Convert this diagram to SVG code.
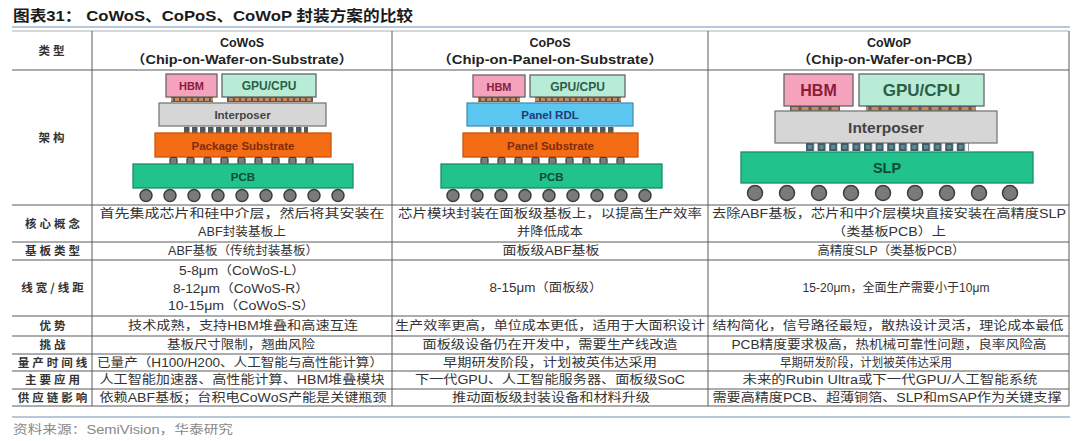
<svg xmlns="http://www.w3.org/2000/svg" width="1080" height="441" viewBox="0 0 1080 441">
<defs>
<style>
.title{font-family:"Liberation Sans","Noto Sans CJK SC",sans-serif;font-weight:bold;font-size:15px;fill:#1a1a1a}
.hd{font-family:"Liberation Sans","Noto Sans CJK SC",sans-serif;font-weight:bold;font-size:12.5px;fill:#222;text-anchor:middle}
.lb{font-family:"Noto Sans CJK SC",sans-serif;font-weight:bold;font-size:11.5px;fill:#333;text-anchor:middle;letter-spacing:3px}
.tx{font-family:"Liberation Sans","Noto Sans CJK SC",sans-serif;font-size:12px;fill:#333;text-anchor:middle}
.src{font-family:"Liberation Sans","Noto Sans CJK SC",sans-serif;font-size:12px;fill:#888}
.ln{stroke:#5a5a5a;stroke-width:1;fill:none}
.lnl{stroke:#b0b0b0;stroke-width:1;fill:none}
.blue{stroke:#9fb6d2;stroke-width:1.5;fill:none}
.dt{font-family:"Liberation Sans","DejaVu Sans",sans-serif;font-weight:bold;text-anchor:middle}
.hbm{fill:#f5a3bd;stroke:#666;stroke-width:1.3}
.gpu{fill:#b9ecd7;stroke:#666;stroke-width:1.3}
.itp{fill:#d6d6d6;stroke:#7a7a7a;stroke-width:1.3}
.rdl{fill:#5bc6f0;stroke:#4a8fb2;stroke-width:1.3}
.sub{fill:#f46c14;stroke:#c9560c;stroke-width:1.3}
.pcb{fill:#22c28d;stroke:#1a8d66;stroke-width:1.3}
.c4{fill:#7c7c7c;stroke:#3a3a3a;stroke-width:1.2}
.ball{fill:#7a7a7a;stroke:#3d3d3d;stroke-width:1.5}
</style>
<pattern id="ubS" patternUnits="userSpaceOnUse" x="0" y="97" width="6" height="5">
<rect x="0" y="0" width="6" height="5" fill="#5a5a5a"/>
<rect x="1" y="1" width="4" height="3" fill="#d08850"/>
</pattern>
<pattern id="tsvS" patternUnits="userSpaceOnUse" x="0" y="127" width="8" height="6">
<rect x="0" y="0" width="5.5" height="6" fill="#4d5a60"/>
</pattern>
<pattern id="ubP" patternUnits="userSpaceOnUse" x="0" y="106" width="10" height="5">
<rect x="0" y="0" width="10" height="5" fill="#5a5a5a"/>
<rect x="1.5" y="1" width="7" height="3" fill="#d08850"/>
</pattern>
<pattern id="tsvP" patternUnits="userSpaceOnUse" x="806" y="143" width="11.6" height="8">
<rect x="0" y="0" width="8" height="8" fill="#3f5d66"/>
<rect x="2" y="2" width="4" height="4" fill="#5f8a92"/>
</pattern>
</defs>
<rect width="1080" height="441" fill="#ffffff"/>

<text class="title" x="13" y="21" textLength="400" lengthAdjust="spacingAndGlyphs">图表31： CoWoS、CoPoS、CoWoP 封装方案的比较</text>
<line class="blue" x1="12" y1="27" x2="1070" y2="27"/>

<g id="table-grid">
<line class="lnl" x1="12" y1="31" x2="1069" y2="31"/>
<line class="ln" x1="12" y1="70" x2="1069" y2="70"/>
<line class="ln" x1="12" y1="205" x2="1069" y2="205"/>
<line class="ln" x1="12" y1="242" x2="1069" y2="242"/>
<line class="ln" x1="12" y1="260" x2="1069" y2="260"/>
<line class="ln" x1="12" y1="316" x2="1069" y2="316"/>
<line class="ln" x1="12" y1="336" x2="1069" y2="336"/>
<line class="ln" x1="12" y1="354" x2="1069" y2="354"/>
<line class="ln" x1="12" y1="371" x2="1069" y2="371"/>
<line class="ln" x1="12" y1="389" x2="1069" y2="389"/>
<line class="ln" x1="12" y1="406" x2="1069" y2="406"/>
<line class="ln" x1="92" y1="31" x2="92" y2="406"/>
<line class="ln" x1="392" y1="31" x2="392" y2="406"/>
<line class="ln" x1="708" y1="31" x2="708" y2="406"/>
<line class="ln" x1="1069" y1="31" x2="1069" y2="406"/>
</g>

<g id="row-labels">
<text class="lb" x="53" y="55">类型</text>
<text class="lb" x="53" y="142">架构</text>
<text class="lb" x="54" y="228">核心概念</text>
<text class="lb" x="54" y="255">基板类型</text>
<text class="lb" x="54" y="292">线宽/线距</text>
<text class="lb" x="54" y="330">优势</text>
<text class="lb" x="54" y="349">挑战</text>
<text class="lb" x="54" y="367">量产时间线</text>
<text class="lb" x="54" y="384">主要应用</text>
<text class="lb" x="54" y="402">供应链影响</text>
</g>

<g id="headers">
<text class="hd" x="242" y="47">CoWoS</text>
<text class="hd" x="242" y="64" textLength="222" lengthAdjust="spacingAndGlyphs">（Chip-on-Wafer-on-Substrate）</text>
<text class="hd" x="550" y="47">CoPoS</text>
<text class="hd" x="550" y="64" textLength="226" lengthAdjust="spacingAndGlyphs">（Chip-on-Panel-on-Substrate）</text>
<text class="hd" x="889" y="47">CoWoP</text>
<text class="hd" x="889" y="64" textLength="184" lengthAdjust="spacingAndGlyphs">（Chip-on-Wafer-on-PCB）</text>
</g>

<g id="cowos-diagram">
<g id="cowos-hbm"><rect class="hbm" x="166" y="74" width="51" height="23"/><text class="dt" x="191.5" y="90" font-size="11" fill="#8a1c3c">HBM</text></g>
<g id="cowos-gpu"><rect class="gpu" x="222" y="74" width="94" height="23"/><text class="dt" x="269" y="90" font-size="12" fill="#2d5e46">GPU/CPU</text></g>
<rect x="171" y="97" width="42" height="5" fill="url(#ubS)"/>
<rect x="227" y="97" width="86" height="5" fill="url(#ubS)"/>
<g id="cowos-interposer"><rect class="itp" x="159" y="103" width="167" height="23"/><text class="dt" x="242.5" y="118.5" font-size="11.5" fill="#444">Interposer</text></g>
<rect x="182" y="127" width="126" height="6" fill="url(#tsvS)"/>
<g id="cowos-substrate"><rect class="sub" x="155" y="133" width="176" height="24"/><text class="dt" x="243" y="149.5" font-size="11.5" fill="#7e2c0c">Package Substrate</text></g>
<g id="cowos-c4">
<rect class="c4" x="170" y="157.5" width="7" height="7" rx="1.5"/><rect class="c4" x="187" y="157.5" width="7" height="7" rx="1.5"/><rect class="c4" x="204" y="157.5" width="7" height="7" rx="1.5"/><rect class="c4" x="221" y="157.5" width="7" height="7" rx="1.5"/><rect class="c4" x="238" y="157.5" width="7" height="7" rx="1.5"/><rect class="c4" x="255" y="157.5" width="7" height="7" rx="1.5"/><rect class="c4" x="272" y="157.5" width="7" height="7" rx="1.5"/><rect class="c4" x="289" y="157.5" width="7" height="7" rx="1.5"/><rect class="c4" x="306" y="157.5" width="7" height="7" rx="1.5"/>
</g>
<g id="cowos-pcb"><rect class="pcb" x="133" y="164" width="220" height="24"/><text class="dt" x="243" y="180.5" font-size="11.5" fill="#0f4d33">PCB</text></g>
<g id="cowos-balls">
<circle class="ball" cx="146" cy="195.5" r="6"/><circle class="ball" cx="170" cy="195.5" r="6"/><circle class="ball" cx="194" cy="195.5" r="6"/><circle class="ball" cx="218" cy="195.5" r="6"/><circle class="ball" cx="242" cy="195.5" r="6"/><circle class="ball" cx="266" cy="195.5" r="6"/><circle class="ball" cx="290" cy="195.5" r="6"/><circle class="ball" cx="314" cy="195.5" r="6"/><circle class="ball" cx="338" cy="195.5" r="6"/>
</g>
</g>

<g id="copos-diagram">
<g id="copos-hbm"><rect class="hbm" x="473" y="75" width="52" height="22"/><text class="dt" x="499" y="90.5" font-size="11" fill="#8a1c3c">HBM</text></g>
<g id="copos-gpu"><rect class="gpu" x="530" y="75" width="95" height="22"/><text class="dt" x="577.5" y="90.5" font-size="12" fill="#2d5e46">GPU/CPU</text></g>
<rect x="478" y="97" width="42" height="5" fill="url(#ubS)"/>
<rect x="535" y="97" width="86" height="5" fill="url(#ubS)"/>
<g id="copos-rdl"><rect class="rdl" x="467" y="103" width="166" height="23"/><text class="dt" x="550" y="118.5" font-size="11.5" fill="#1e3a7a">Panel RDL</text></g>
<rect x="490" y="127" width="126" height="6" fill="url(#tsvS)"/>
<g id="copos-substrate"><rect class="sub" x="463" y="133" width="175" height="24"/><text class="dt" x="550.5" y="149.5" font-size="11.5" fill="#7e2c0c">Panel Substrate</text></g>
<g id="copos-c4">
<rect class="c4" x="481" y="157.5" width="7" height="7" rx="1.5"/><rect class="c4" x="498" y="157.5" width="7" height="7" rx="1.5"/><rect class="c4" x="515" y="157.5" width="7" height="7" rx="1.5"/><rect class="c4" x="532" y="157.5" width="7" height="7" rx="1.5"/><rect class="c4" x="549" y="157.5" width="7" height="7" rx="1.5"/><rect class="c4" x="566" y="157.5" width="7" height="7" rx="1.5"/><rect class="c4" x="583" y="157.5" width="7" height="7" rx="1.5"/><rect class="c4" x="600" y="157.5" width="7" height="7" rx="1.5"/><rect class="c4" x="617" y="157.5" width="7" height="7" rx="1.5"/>
</g>
<g id="copos-pcb"><rect class="pcb" x="441" y="164" width="221" height="24"/><text class="dt" x="551.5" y="180.5" font-size="11.5" fill="#0f4d33">PCB</text></g>
<g id="copos-balls">
<circle class="ball" cx="453" cy="195.5" r="6"/><circle class="ball" cx="477" cy="195.5" r="6"/><circle class="ball" cx="501" cy="195.5" r="6"/><circle class="ball" cx="525" cy="195.5" r="6"/><circle class="ball" cx="549" cy="195.5" r="6"/><circle class="ball" cx="573" cy="195.5" r="6"/><circle class="ball" cx="597" cy="195.5" r="6"/><circle class="ball" cx="621" cy="195.5" r="6"/><circle class="ball" cx="645" cy="195.5" r="6"/>
</g>
</g>

<g id="cowop-diagram">
<g id="cowop-hbm"><rect class="hbm" x="784" y="74" width="69" height="32"/><text class="dt" x="818.5" y="96" font-size="16" fill="#8a1c3c">HBM</text></g>
<g id="cowop-gpu"><rect class="gpu" x="859" y="74" width="125" height="32"/><text class="dt" x="921.5" y="96" font-size="17" fill="#2d5e46">GPU/CPU</text></g>
<rect x="790" y="106" width="50" height="5" fill="url(#ubP)"/>
<rect x="866" y="106" width="110" height="5" fill="url(#ubP)"/>
<g id="cowop-interposer"><rect class="itp" x="775" y="111" width="222" height="32"/><text class="dt" x="886" y="133" font-size="15.5" fill="#444">Interposer</text></g>
<rect x="806" y="143" width="163" height="8" fill="url(#tsvP)"/>
<g id="cowop-slp"><rect class="pcb" x="741" y="152" width="292" height="31"/><text class="dt" x="887" y="173" font-size="14.5" fill="#0f4d33">SLP</text></g>
<g id="cowop-balls">
<circle class="ball" cx="755" cy="193" r="7.5"/><circle class="ball" cx="787" cy="193" r="7.5"/><circle class="ball" cx="819" cy="193" r="7.5"/><circle class="ball" cx="851" cy="193" r="7.5"/><circle class="ball" cx="883" cy="193" r="7.5"/><circle class="ball" cx="915" cy="193" r="7.5"/><circle class="ball" cx="947" cy="193" r="7.5"/><circle class="ball" cx="979" cy="193" r="7.5"/><circle class="ball" cx="1010" cy="193" r="7.5"/>
</g>
</g>

<g id="row-core">
<text class="tx" x="242" y="218" textLength="285" lengthAdjust="spacingAndGlyphs">首先集成芯片和硅中介层，然后将其安装在</text>
<text class="tx" x="242" y="236" textLength="88" lengthAdjust="spacingAndGlyphs">ABF封装基板上</text>
<text class="tx" x="550" y="218" textLength="304" lengthAdjust="spacingAndGlyphs">芯片模块封装在面板级基板上，以提高生产效率</text>
<text class="tx" x="550" y="236" textLength="66" lengthAdjust="spacingAndGlyphs">并降低成本</text>
<text class="tx" x="889" y="218" textLength="354" lengthAdjust="spacingAndGlyphs">去除ABF基板，芯片和中介层模块直接安装在高精度SLP</text>
<text class="tx" x="889" y="236" textLength="114" lengthAdjust="spacingAndGlyphs">（类基板PCB）上</text>
</g>

<g id="row-substrate">
<text class="tx" x="243" y="255" textLength="150" lengthAdjust="spacingAndGlyphs">ABF基板（传统封装基板）</text>
<text class="tx" x="551" y="255" textLength="97" lengthAdjust="spacingAndGlyphs">面板级ABF基板</text>
<text class="tx" x="891" y="255" textLength="147" lengthAdjust="spacingAndGlyphs">高精度SLP（类基板PCB）</text>
</g>

<g id="row-linewidth">
<text class="tx" x="242" y="275" textLength="126" lengthAdjust="spacingAndGlyphs">5-8μm（CoWoS-L）</text>
<text class="tx" x="241" y="292.5" textLength="136" lengthAdjust="spacingAndGlyphs">8-12μm（CoWoS-R）</text>
<text class="tx" x="241.5" y="310" textLength="147" lengthAdjust="spacingAndGlyphs">10-15μm（CoWoS-S）</text>
<text class="tx" x="546" y="292" textLength="113" lengthAdjust="spacingAndGlyphs">8-15μm（面板级）</text>
<text class="tx" x="896" y="292" textLength="187" lengthAdjust="spacingAndGlyphs">15-20μm，全面生产需要小于10μm</text>
</g>

<g id="row-advantage">
<text class="tx" x="243" y="330" textLength="230" lengthAdjust="spacingAndGlyphs">技术成熟，支持HBM堆叠和高速互连</text>
<text class="tx" x="550" y="330" textLength="310" lengthAdjust="spacingAndGlyphs">生产效率更高，单位成本更低，适用于大面积设计</text>
<text class="tx" x="888" y="330" textLength="351" lengthAdjust="spacingAndGlyphs">结构简化，信号路径最短，散热设计灵活，理论成本最低</text>
</g>

<g id="row-challenge">
<text class="tx" x="241" y="349" textLength="148" lengthAdjust="spacingAndGlyphs">基板尺寸限制，翘曲风险</text>
<text class="tx" x="550" y="349" textLength="255" lengthAdjust="spacingAndGlyphs">面板级设备仍在开发中，需要生产线改造</text>
<text class="tx" x="889" y="349" textLength="315" lengthAdjust="spacingAndGlyphs">PCB精度要求极高，热机械可靠性问题，良率风险高</text>
</g>

<g id="row-timeline">
<text class="tx" x="240" y="367" textLength="286" lengthAdjust="spacingAndGlyphs">已量产（H100/H200、人工智能与高性能计算）</text>
<text class="tx" x="550" y="367" textLength="214" lengthAdjust="spacingAndGlyphs">早期研发阶段，计划被英伟达采用</text>
<text class="tx" x="866" y="367" textLength="172" lengthAdjust="spacingAndGlyphs">早期研发阶段，计划被英伟达采用</text>
</g>

<g id="row-application">
<text class="tx" x="242" y="384" textLength="285" lengthAdjust="spacingAndGlyphs">人工智能加速器、高性能计算、HBM堆叠模块</text>
<text class="tx" x="550" y="384" textLength="270" lengthAdjust="spacingAndGlyphs">下一代GPU、人工智能服务器、面板级SoC</text>
<text class="tx" x="890" y="384" textLength="295" lengthAdjust="spacingAndGlyphs">未来的Rubin Ultra或下一代GPU/人工智能系统</text>
</g>

<g id="row-supply">
<text class="tx" x="243" y="402" textLength="287" lengthAdjust="spacingAndGlyphs">依赖ABF基板；台积电CoWoS产能是关键瓶颈</text>
<text class="tx" x="551" y="402" textLength="198" lengthAdjust="spacingAndGlyphs">推动面板级封装设备和材料升级</text>
<text class="tx" x="887" y="402" textLength="349" lengthAdjust="spacingAndGlyphs">需要高精度PCB、超薄铜箔、SLP和mSAP作为关键支撑</text>
</g>

<line class="blue" x1="12" y1="417" x2="1070" y2="417"/>
<text class="src" x="13" y="434" textLength="220" lengthAdjust="spacingAndGlyphs">资料来源：SemiVision，华泰研究</text>
</svg>
